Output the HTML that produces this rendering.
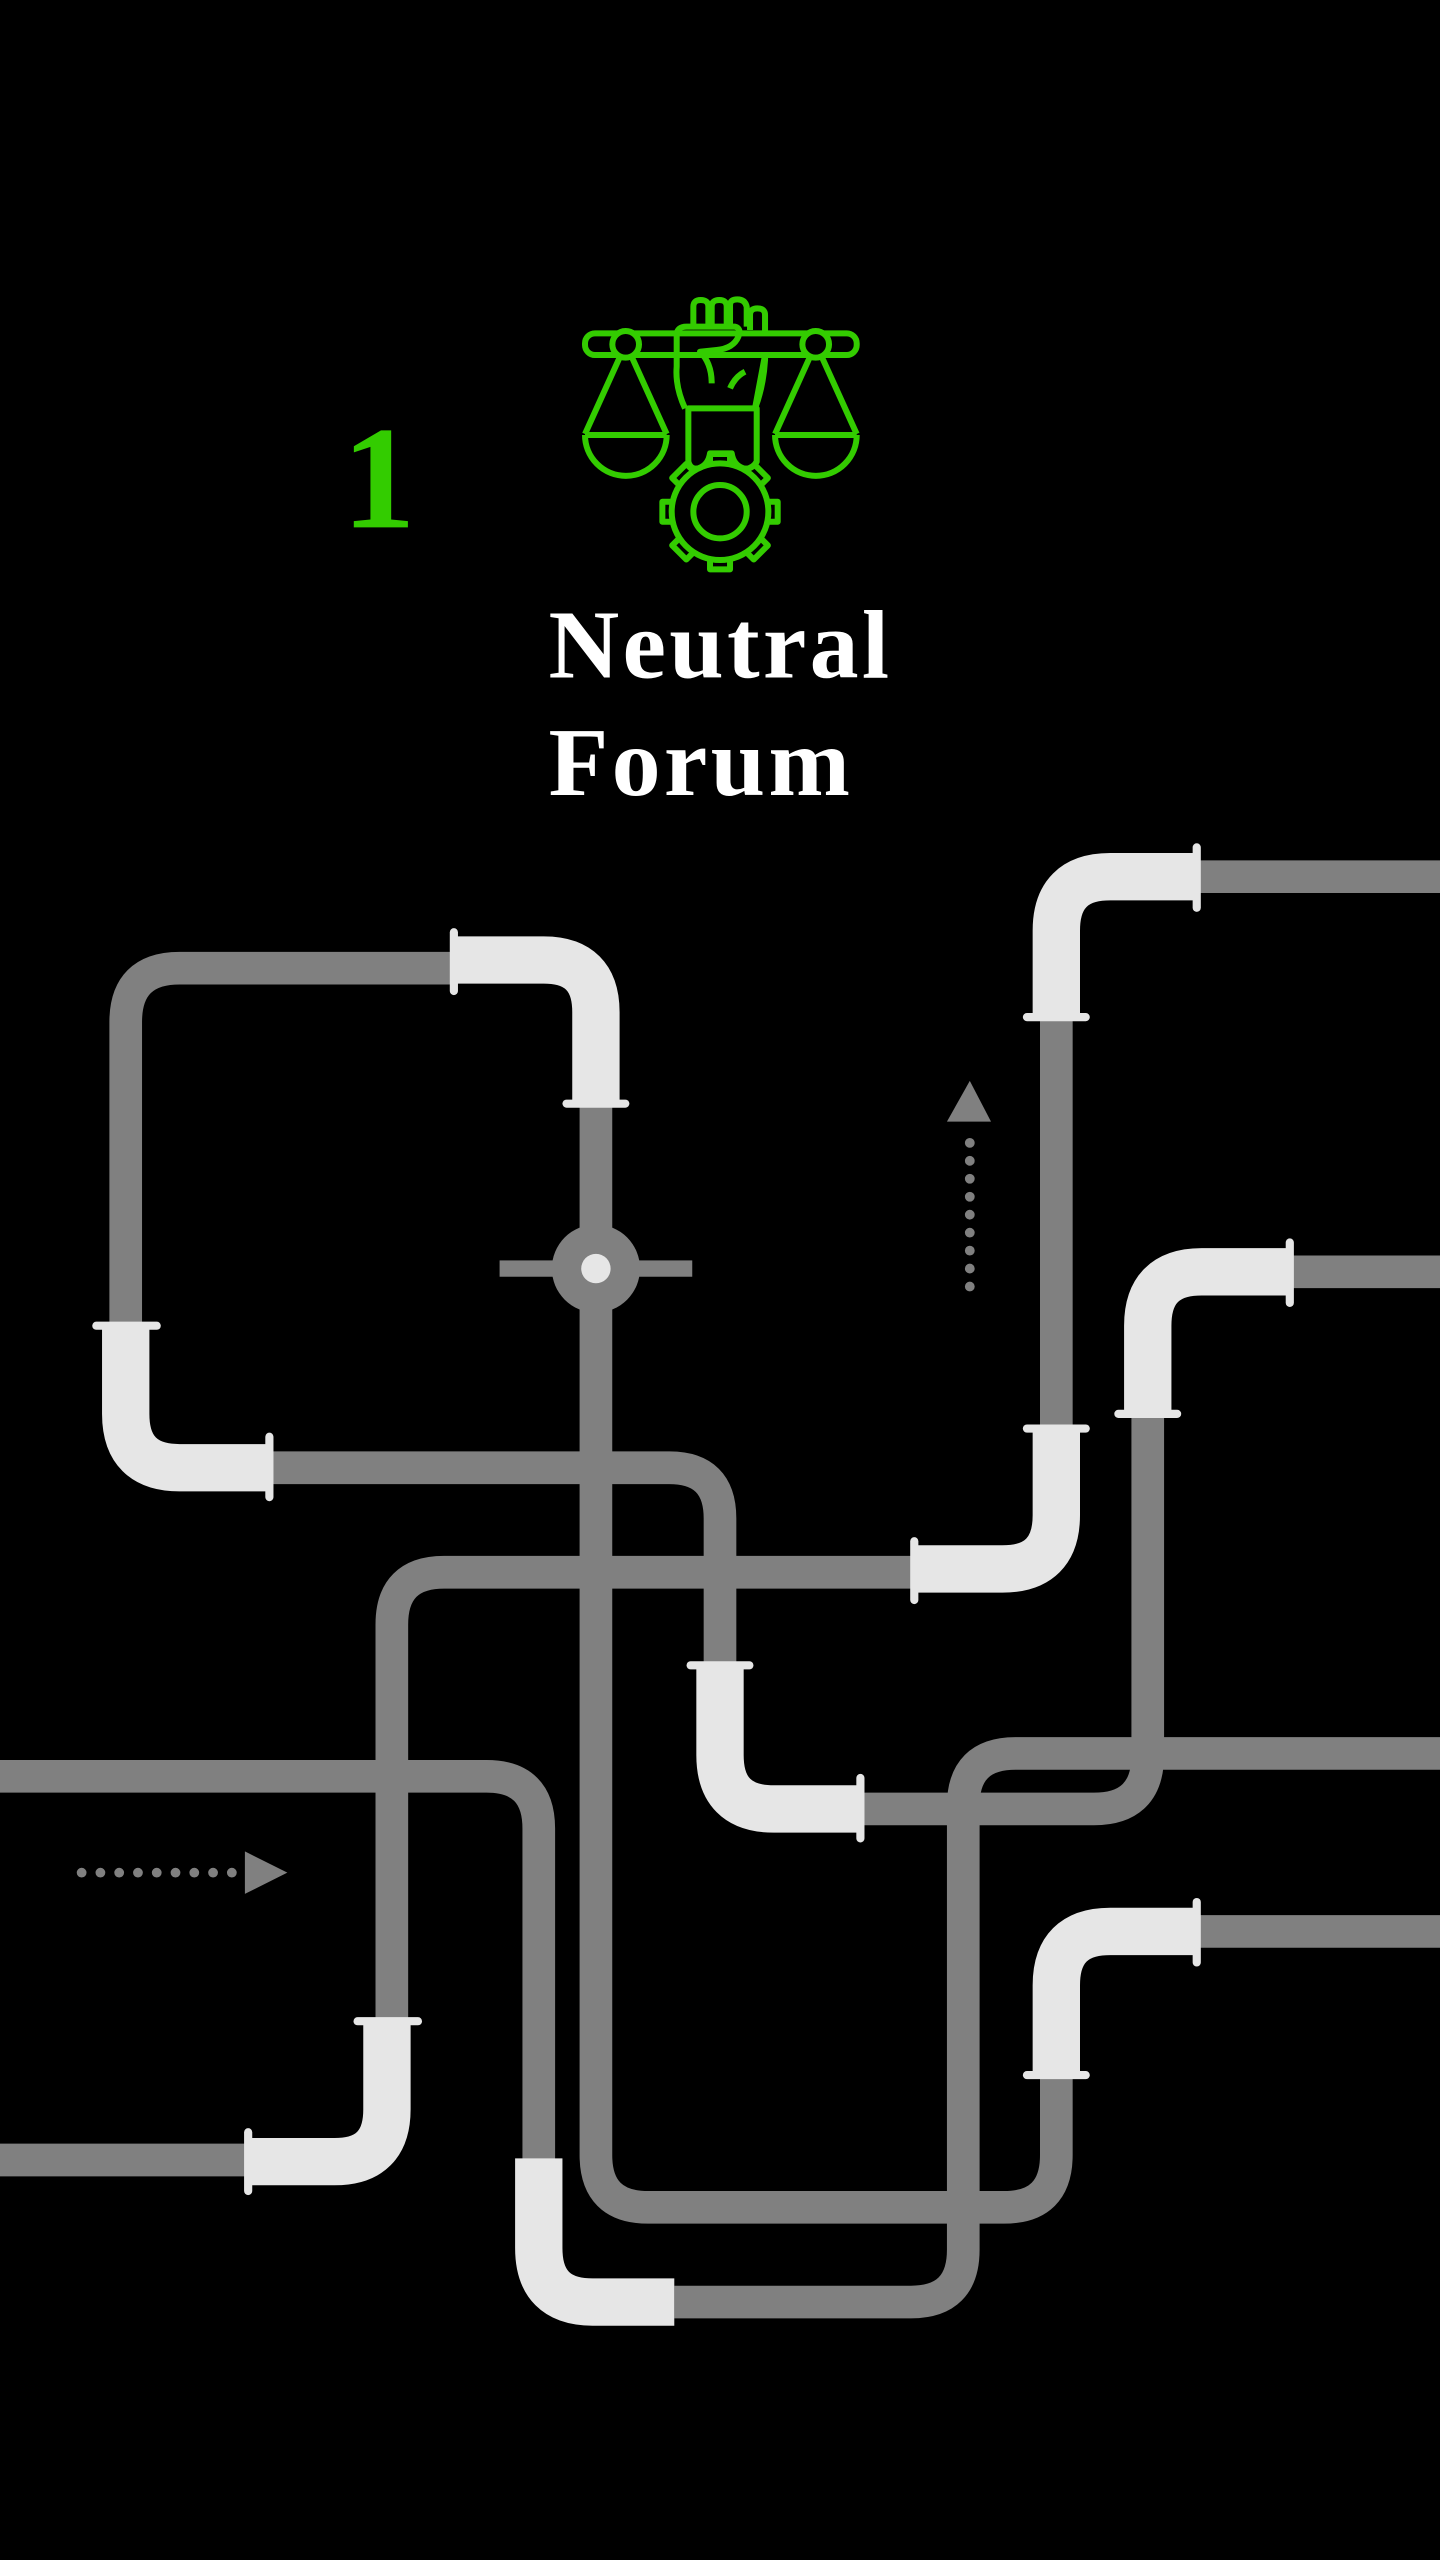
<!DOCTYPE html>
<html><head><meta charset="utf-8"><style>
html,body{margin:0;padding:0;background:#000;}
svg{display:block;}
</style></head><body>
<svg width="1440" height="2560" viewBox="0 0 882 1568" xmlns="http://www.w3.org/2000/svg">
<rect width="882" height="1568" fill="#000"/>
<g fill="none" stroke="#808080" stroke-width="20">
  <path d="M365 675 V1320 Q365 1352 397 1352 H615 Q647 1352 647 1320 V1270"/>
  <path d="M733 1183 H882"/>
  <path d="M278 593 H110 Q77 593 77 626 V812"/>
  <path d="M165 899 H410 Q441 899 441 930 V1020"/>
  <path d="M527 1108 H670 Q703 1108 703 1075 V865"/>
  <path d="M790 779 H882"/>
  <path d="M560 963 H272 Q240 963 240 995 V1237"/>
  <path d="M152 1323 H0"/>
  <path d="M647 875 V623"/>
  <path d="M733 537 H882"/>
  <path d="M0 1088 H298 Q330 1088 330 1120 V1325"/>
  <path d="M413 1410 H558 Q590 1410 590 1378 V1106 Q590 1074 622 1074 H882"/>
</g>
<rect x="306" y="772" width="118" height="10" fill="#808080"/>
<circle cx="365" cy="777" r="27" fill="#808080"/>
<circle cx="365" cy="777" r="9" fill="#e6e6e6"/>
<g fill="none" stroke="#e6e6e6" stroke-width="29">
  <path d="M278 588 H333 Q365 588 365 620 V675"/>
  <path d="M77 812 V866 Q77 899 110 899 H165"/>
  <path d="M441 1020 V1075 Q441 1108 474 1108 H527"/>
  <path d="M703 865 V812 Q703 779 736 779 H790"/>
  <path d="M560 961 H614 Q647 961 647 928 V875"/>
  <path d="M647 623 V570 Q647 537 680 537 H733"/>
  <path d="M237 1237 V1292 Q237 1324 205 1324 H152"/>
  <path d="M647 1270 V1216 Q647 1183 680 1183 H733"/>
  <path d="M330 1322 V1377 Q330 1410 363 1410 H413"/>
</g>
<g stroke="#e6e6e6" stroke-width="5" stroke-linecap="round">
  <line x1="278" y1="571" x2="278" y2="607"/>
  <line x1="347" y1="676" x2="383" y2="676"/>
  <line x1="59" y1="812" x2="96" y2="812"/>
  <line x1="165" y1="880" x2="165" y2="917"/>
  <line x1="423" y1="1020" x2="459" y2="1020"/>
  <line x1="527" y1="1089" x2="527" y2="1126"/>
  <line x1="685" y1="866" x2="721" y2="866"/>
  <line x1="790" y1="761" x2="790" y2="798"/>
  <line x1="560" y1="944" x2="560" y2="980"/>
  <line x1="629" y1="875" x2="665" y2="875"/>
  <line x1="629" y1="623" x2="665" y2="623"/>
  <line x1="733" y1="519" x2="733" y2="556"/>
  <line x1="219" y1="1238" x2="256" y2="1238"/>
  <line x1="152" y1="1306" x2="152" y2="1342"/>
  <line x1="629" y1="1271" x2="665" y2="1271"/>
  <line x1="733" y1="1165" x2="733" y2="1202"/>
</g>
<line x1="594" y1="788" x2="594" y2="692" stroke="#808080" stroke-width="6" stroke-linecap="round" stroke-dasharray="0 11"/>
<polygon points="580,687 607,687 594,662" fill="#808080"/>
<line x1="50" y1="1147" x2="146" y2="1147" stroke="#808080" stroke-width="6" stroke-linecap="round" stroke-dasharray="0 11.5"/>
<polygon points="150,1134 150,1160 176,1147" fill="#808080"/>
<text x="232" y="323" text-anchor="middle" font-family="Liberation Serif, serif" font-weight="bold" font-size="90" fill="#33cc00">1</text>
<text x="336" y="415" font-family="Liberation Serif, serif" font-weight="bold" font-size="60" letter-spacing="2" fill="#fff">Neutral</text>
<text x="336" y="487" font-family="Liberation Serif, serif" font-weight="bold" font-size="60" letter-spacing="2" fill="#fff">Forum</text>
<g transform="translate(343,171.5) scale(0.2042)" fill="none" stroke="#33cc00" stroke-width="18" stroke-linejoin="round">
  <rect x="75" y="160" width="815" height="65" rx="30" fill="#000"/>
  <circle cx="197" cy="193" r="40" fill="#000"/>
  <circle cx="767" cy="193" r="40" fill="#000"/>
  <path d="M180 230 L75 462 M215 230 L320 462 M75 465 H320 M75 465 A122 122 0 0 0 320 465"/>
  <path d="M750 230 L645 462 M785 230 L890 462 M645 465 H890 M645 465 A122 122 0 0 0 890 465"/>
  <g fill="#000">
    <rect x="450" y="522" width="60" height="50" transform="rotate(0 480 695)"/>
    <rect x="450" y="522" width="60" height="50" transform="rotate(45 480 695)"/>
    <rect x="450" y="522" width="60" height="50" transform="rotate(90 480 695)"/>
    <rect x="450" y="522" width="60" height="50" transform="rotate(135 480 695)"/>
    <rect x="450" y="522" width="60" height="50" transform="rotate(180 480 695)"/>
    <rect x="450" y="522" width="60" height="50" transform="rotate(225 480 695)"/>
    <rect x="450" y="522" width="60" height="50" transform="rotate(270 480 695)"/>
    <rect x="450" y="522" width="60" height="50" transform="rotate(315 480 695)"/>
    <circle cx="480" cy="695" r="145"/>
  </g>
  <circle cx="480" cy="695" r="80"/>
  <path d="M385 385 H590 V545 Q575 570 550 565 Q520 555 515 520 H450 Q445 555 415 565 Q392 570 385 545 Z" fill="#000"/>
  <path d="M375 385 Q345 320 350 260 V165 Q350 140 380 140 H400 V80 Q400 60 422 60 Q445 60 445 80 V140 M455 140 V80 Q455 60 478 60 Q500 60 500 80 V140 M510 140 V75 Q510 58 532 58 Q555 58 560 80 V140 M570 150 V105 Q570 85 592 85 Q615 85 615 105 V155 M615 225 V240 Q610 320 585 385 Z" fill="none"/>
  <path d="M400 140 H525 Q545 145 535 170 Q520 205 470 210 L420 215 Q455 250 455 310"/>
  <path d="M510 325 Q525 290 555 275"/>
</g>
</svg>
</body></html>
